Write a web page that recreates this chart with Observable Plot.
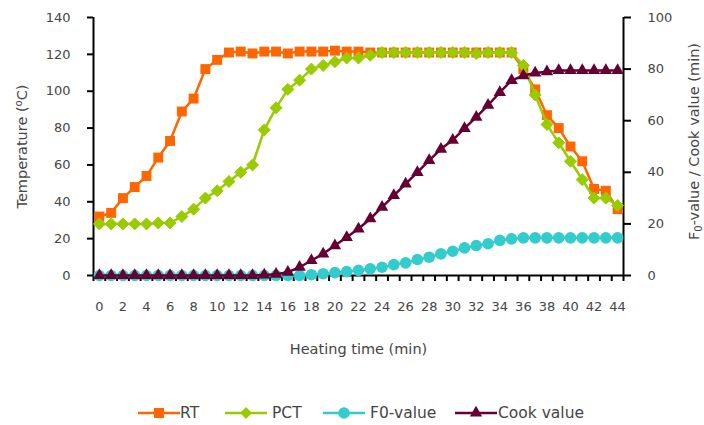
<!DOCTYPE html>
<html>
<head>
<meta charset="utf-8">
<script src="https://cdn.jsdelivr.net/npm/d3@7"></script>
<script src="https://cdn.jsdelivr.net/npm/@observablehq/plot@0.6"></script>
<style>
  html, body { margin: 0; padding: 0; background: white; }
  #wrap { position: relative; width: 704px; height: 425px; font-family: "DejaVu Sans", sans-serif; }
  .lg { position: absolute; top: 404px; height: 18px; line-height: 18px; font-size: 15.5px; color: #454545; white-space: nowrap; }
</style>
</head>
<body>
<div id="wrap"></div>
<script>
// ---- data ----
const time = [0,1,2,3,4,5,6,7,8,9,10,11,12,13,14,15,16,17,18,19,20,21,22,23,24,25,26,27,28,29,30,31,32,33,34,35,36,37,38,39,40,41,42,43,44];
const rt   = [32,34,42,48,54,64,73,89,96,112,117,121,121.5,120.5,121.5,121.5,120.5,121.5,121.5,121.5,122,121.5,121.5,121,121,121,121,121,121,121,121,121,121,121,121,121,112,101,87,80,70,62,47,46,36];
const pct  = [28,28,28,28,28,28.5,28.5,32,36,42,46,51,56,60,79,91,101,106,112,114,116,118,118,119.5,121,121,121,121,121,121,121,121,120.5,121,121,121,114,98,82,72,62,52,42,42,38];
const f0   = [0,0,0,0,0,0,0,0,0,0,0,0,0,0,0,0,0,0,0.3,0.7,1.1,1.5,2,2.6,3.2,4.2,4.9,6.2,7.1,8.4,9.4,10.7,11.6,12.3,13.6,14.2,14.6,14.6,14.6,14.6,14.6,14.6,14.6,14.6,14.6];
const cook = [0,0,0,0,0,0,0,0,0,0,0,0,0,0,0.2,0.5,1.3,3.2,5.8,8.4,11.6,14.8,18.1,22,26.5,31,35.5,40,44.6,49,52.5,57,61.4,66,71,75.6,77.5,78.5,79,79.5,79.5,79.5,79.5,79.5,79.5];
const leftTicks  = [0,20,40,60,80,100,120,140];
const rightTicks = [0,20,40,60,80,100];
const xLabels    = [0,2,4,6,8,10,12,14,16,18,20,22,24,26,28,30,32,34,36,38,40,42,44];
const seriesNames = ["RT","PCT","F0-value","Cook value"];
const colors = ["#FF6600","#99CC00","#33CCCC","#660033"];
const xTitle = "Heating time (min)";
const yTitle = "Temperature (oC)";
const y2Title = "F0-value / Cook value (min)";

// right axis (0-100) mapped onto left scale (0-140)
const k = 140 / 100;
const xEdges = time.map(t => t - 0.5).concat([time[time.length - 1] + 0.5]);

const rows = (vals, scale) => time.map((t, i) => ({t, v: vals[i] * scale}));
const sRT = rows(rt, 1), sPCT = rows(pct, 1), sF0 = rows(f0, k), sCook = rows(cook, k);

const textCol = "#454545";
const chart = Plot.plot({
  width: 704,
  height: 380,
  marginTop: 17,
  marginBottom: 105,
  marginLeft: 93,
  marginRight: 81,
  x: {domain: [-0.5, 44.5]},
  y: {domain: [0, 140]},
  style: {fontFamily: "DejaVu Sans, sans-serif", background: "white", overflow: "visible"},
  marks: [
    Plot.axisX({ticks: xEdges, tickSize: 6, tickFormat: () => "", color: "black", strokeWidth: 2, label: null}),
    Plot.axisX({ticks: xLabels, tickSize: 0, tickPadding: 26, tickFormat: d => String(d), color: textCol, fontSize: 13, label: null}),
    Plot.axisY({ticks: leftTicks, tickSize: 6, tickFormat: () => "", color: "black", strokeWidth: 2, label: null}),
    Plot.axisY({ticks: leftTicks, tickSize: 0, tickPadding: 23, tickFormat: d => String(d), color: textCol, fontSize: 13, label: null}),
    Plot.axisY({anchor: "right", ticks: rightTicks.map(v => v * k), tickSize: 7, tickFormat: () => "", color: "black", strokeWidth: 2, label: null}),
    Plot.axisY({anchor: "right", ticks: rightTicks.map(v => v * k), tickSize: 0, tickPadding: 24, tickFormat: d => String(Math.round(d / k)), color: textCol, fontSize: 13, label: null}),
    Plot.ruleY([0], {stroke: "black", strokeWidth: 2}),
    Plot.ruleX([-0.5, 44.5], {stroke: "black", strokeWidth: 2}),
    Plot.line(sRT, {x: "t", y: "v", stroke: colors[0], strokeWidth: 2.5}),
    Plot.dot(sRT, {x: "t", y: "v", symbol: "square", r: 5.6, fill: colors[0], stroke: "none"}),
    Plot.line(sPCT, {x: "t", y: "v", stroke: colors[1], strokeWidth: 2.5}),
    Plot.dot(sPCT, {x: "t", y: "v", symbol: "diamond2", r: 5.4, fill: colors[1], stroke: colors[1], strokeWidth: 1}),
    Plot.line(sF0, {x: "t", y: "v", stroke: colors[2], strokeWidth: 2.5}),
    Plot.dot(sF0, {x: "t", y: "v", symbol: "circle", r: 5.8, fill: colors[2], stroke: "none"}),
    Plot.line(sCook, {x: "t", y: "v", stroke: colors[3], strokeWidth: 2.5}),
    Plot.dot(sCook, {x: "t", y: "v", symbol: "triangle", r: 4.6, fill: colors[3], stroke: "none"}),
    Plot.text([xTitle], {text: d => d, frameAnchor: "bottom", lineAnchor: "middle", textAnchor: "middle", dy: 74, fontSize: 14.5, fill: textCol}),
    Plot.text([yTitle], {text: d => d, frameAnchor: "left", lineAnchor: "middle", textAnchor: "middle", rotate: -90, dx: -71, fontSize: 14.5, fill: textCol, className: "ytitle"}),
    Plot.text([y2Title], {text: d => d, frameAnchor: "right", lineAnchor: "middle", textAnchor: "middle", rotate: -90, dx: 71, dy: -5, fontSize: 14.5, fill: textCol, className: "y2title"})
  ]
});

const wrap = document.getElementById("wrap");
wrap.appendChild(chart);

// superscript "o" in (oC) and subscript "0" in F0
function splitScript(sel, before, mid, after, shift) {
  d3.select(chart).selectAll(sel + " text").each(function () {
    const t = d3.select(this);
    t.text(null);
    t.append("tspan").text(before);
    t.append("tspan").attr("font-size", "10px").attr("dy", shift).text(mid);
    t.append("tspan").attr("dy", -shift).text(after);
  });
}
splitScript(".ytitle", "Temperature (", "o", "C)", -5);
splitScript(".y2title", "F", "0", "-value / Cook value (min)", 3);

// legend below the chart
const legendPos = [
  {line: 138, text: 180},
  {line: 225, text: 272},
  {line: 323, text: 370},
  {line: 455, text: 498}
];
const symbols = [
  d3.symbol(d3.symbolSquare, 100),
  d3.symbol(d3.symbolDiamond2, 92),
  d3.symbol(d3.symbolCircle, 105),
  d3.symbol(d3.symbolTriangle, 66)
];
seriesNames.forEach((name, i) => {
  const p = legendPos[i];
  const len = 42;
  const svg = d3.create("svg").attr("class", "lg").attr("width", len + 4).attr("height", 18)
    .style("left", (p.line - 2) + "px");
  svg.append("line").attr("x1", 2).attr("x2", 2 + len).attr("y1", 9).attr("y2", 9)
    .attr("stroke", colors[i]).attr("stroke-width", 2.5);
  svg.append("path").attr("d", symbols[i]()).attr("transform", `translate(${2 + len / 2},9)`)
    .attr("fill", colors[i]);
  wrap.appendChild(svg.node());
  const span = document.createElement("div");
  span.className = "lg";
  span.style.left = p.text + "px";
  span.textContent = name;
  wrap.appendChild(span);
});
</script>
</body>
</html>
